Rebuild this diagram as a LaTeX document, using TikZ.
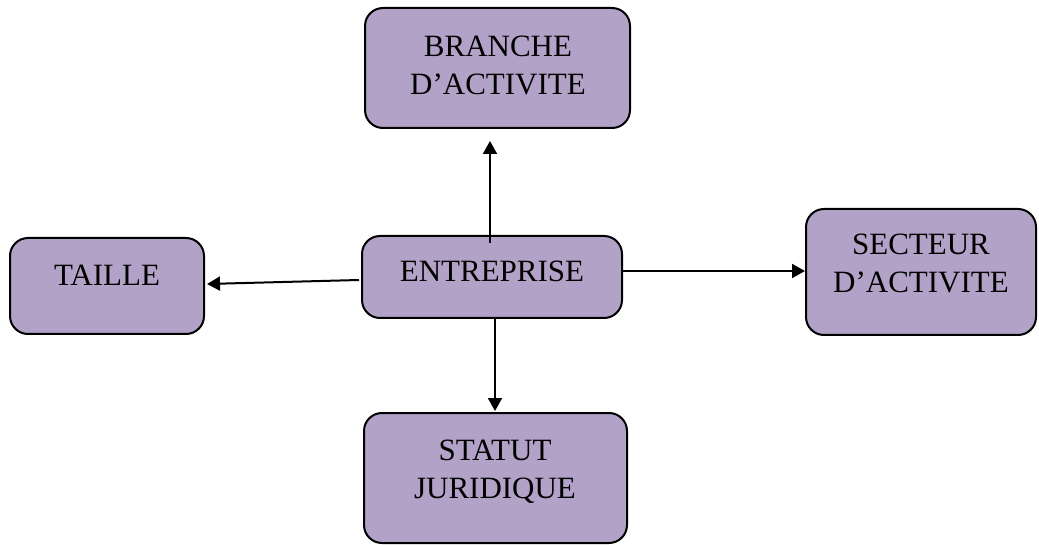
\documentclass[tikz,border=0pt]{standalone}
\usepackage{fontspec}
\setmainfont{Liberation Serif}
\usetikzlibrary{arrows.meta,calc}
\definecolor{boxfill}{HTML}{B3A2C7}
\begin{document}
\begin{tikzpicture}[x=1pt,y=-1pt,
  box/.style={draw=black, line width=2pt, fill=boxfill, rounded corners=18pt, inner sep=0pt},
  lbl/.style={font=\fontsize{31}{38}\selectfont, align=center, inner sep=0pt},
  conn/.style={line width=2pt, -{Triangle[length=13pt,width=14pt]}}]
\useasboundingbox (0,0) rectangle (1039,545);
\node[box, minimum width=265pt, minimum height=120pt] (branche) at (497.5,68) {};
\node[box, minimum width=194pt, minimum height=96pt] (taille) at (107,286) {};
\node[box, minimum width=260pt, minimum height=82pt] (entreprise) at (492,277) {};
\node[box, minimum width=230pt, minimum height=126pt] (secteur) at (921,272) {};
\node[box, minimum width=263pt, minimum height=130pt] (statut) at (495.5,478) {};
\node[lbl] (tbranche) at (498,65) {BRANCHE\\D’ACTIVITE};
\node[lbl] (ttaille) at (107,275) {TAILLE};
\node[lbl] (tentreprise) at (492,271) {ENTREPRISE};
\node[lbl] (tsecteur) at (921,263) {SECTEUR\\D’ACTIVITE};
\node[lbl] (tstatut) at (495,472) {STATUT\\JURIDIQUE};
\draw[conn] ($(entreprise.north)+(-2,8)$) -- ($(branche.south)+(-7.5,12)$);
\draw[conn] ($(entreprise.west)+(-2,3)$) -- ($(taille.east)+(2,-2)$);
\draw[conn] ($(entreprise.east)+(0,-6)$) -- ($(secteur.west)+(0,-1)$);
\draw[conn] ($(entreprise.south)+(3,0)$) -- ($(statut.north)+(-0.5,-1)$);
\end{tikzpicture}
\end{document}
